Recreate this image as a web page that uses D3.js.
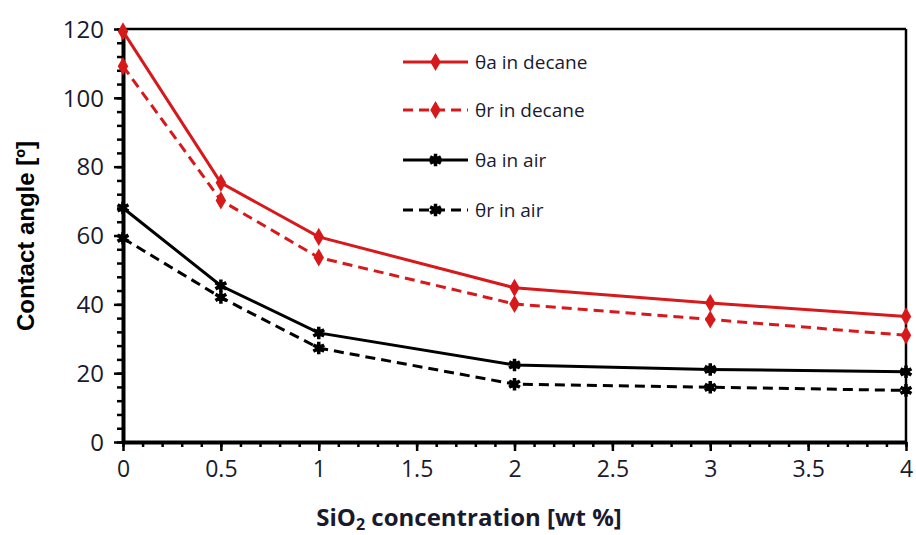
<!DOCTYPE html>
<html>
<head>
<meta charset="utf-8">
<script src="https://cdn.jsdelivr.net/npm/d3@7"></script>
<style>
  body { margin: 0; background: #fff; }
  svg { display: block; }
</style>
</head>
<body>
<script>
// data
const concentrations = [0, 0.5, 1, 2, 3, 4];
const thetaADecane = [119.3, 75.3, 59.6, 44.8, 40.4, 36.5];
const thetaRDecane = [109.2, 70.2, 53.6, 40.1, 35.6, 31.0];
const thetaAAir = [68.0, 45.4, 31.7, 22.4, 21.1, 20.4];
const thetaRAir = [59.2, 42.0, 27.3, 16.8, 15.9, 15.0];
const seriesNames = ["θa in decane", "θr in decane", "θa in air", "θr in air"];
const xTicks = [0, 0.5, 1, 1.5, 2, 2.5, 3, 3.5, 4];
const yTicks = [0, 20, 40, 60, 80, 100, 120];

const width = 916, height = 535;
const margin = { left: 123, right: 10, top: 29, bottom: 93 };

const svg = d3.select("body").append("svg")
  .attr("width", width).attr("height", height);

const x_scale = d3.scaleLinear().domain([0, 4]).range([margin.left, width - margin.right]);
const y_scale = d3.scaleLinear().domain([0, 120]).range([height - margin.bottom, margin.top]);

const series = [
  { name: seriesNames[0], values: thetaADecane, color: "#d7191c", dash: null, marker: "diamond" },
  { name: seriesNames[1], values: thetaRDecane, color: "#d7191c", dash: "10,6", marker: "diamond" },
  { name: seriesNames[2], values: thetaAAir, color: "#000", dash: null, marker: "star" },
  { name: seriesNames[3], values: thetaRAir, color: "#000", dash: "10,6", marker: "star" }
];

// box: top and right edges
svg.append("line")
  .attr("x1", x_scale(0)).attr("x2", x_scale(4))
  .attr("y1", y_scale(120)).attr("y2", y_scale(120))
  .attr("stroke", "#000").attr("stroke-width", 2.5);
svg.append("line")
  .attr("x1", x_scale(4)).attr("x2", x_scale(4))
  .attr("y1", y_scale(120)).attr("y2", y_scale(0))
  .attr("stroke", "#000").attr("stroke-width", 2.5);

// minor ticks
const yMinor = d3.range(0, 121, 4);
const xMinor = d3.range(0, 41).map(d => d / 10);

const yMinorAxis = d3.axisLeft(y_scale).tickValues(yMinor).tickSize(6).tickFormat("");
const xMinorAxis = d3.axisBottom(x_scale).tickValues(xMinor).tickSize(5).tickFormat("");

svg.append("g").attr("transform", `translate(${margin.left},0)`).call(yMinorAxis)
  .call(g => g.select(".domain").remove())
  .selectAll("line").attr("stroke-width", 2.5);
svg.append("g").attr("transform", `translate(0,${height - margin.bottom})`).call(xMinorAxis)
  .call(g => g.select(".domain").remove())
  .selectAll("line").attr("stroke-width", 2.5);

// major axes
const y_axis = d3.axisLeft(y_scale).tickValues(yTicks).tickSize(9).tickSizeOuter(0).tickPadding(10);
const x_axis = d3.axisBottom(x_scale).tickValues(xTicks).tickSize(9).tickSizeOuter(0).tickPadding(10)
  .tickFormat(d => String(d));

svg.append("g").attr("transform", `translate(${margin.left},0)`).call(y_axis)
  .call(g => g.select(".domain").attr("stroke-width", 4))
  .call(g => g.selectAll("line").attr("stroke-width", 2.5))
  .call(g => g.selectAll("text").style("font", "24px 'Open Sans'").attr("fill", "#1a1a2e").attr("dy", "0.34em"));

svg.append("g").attr("transform", `translate(0,${height - margin.bottom})`).call(x_axis)
  .call(g => g.select(".domain").attr("stroke-width", 4))
  .call(g => g.selectAll("line").attr("stroke-width", 2.5))
  .call(g => g.selectAll("text").style("font", "23px 'Open Sans'").attr("fill", "#1a1a2e"));

// markers
const diamond = d3.symbol().type(d3.symbolDiamond).size(95);
const star = d3.symbol().type(d3.symbolAsterisk).size(110);

function drawMarker(g, type, color) {
  if (type === "diamond") {
    g.append("path").attr("d", diamond).attr("fill", color);
  } else {
    g.append("path").attr("d", star).attr("fill", "none").attr("stroke", color).attr("stroke-width", 3.5);
    g.append("rect").attr("x", -3.5).attr("y", -3.5).attr("width", 7).attr("height", 7).attr("fill", color);
  }
}

const line_generator = d3.line()
  .x((d, i) => x_scale(concentrations[i]))
  .y(d => y_scale(d));

series.forEach(s => {
  svg.append("path")
    .attr("fill", "none")
    .attr("stroke", s.color)
    .attr("stroke-width", 3)
    .attr("stroke-dasharray", s.dash)
    .attr("d", line_generator(s.values));
  s.values.forEach((v, i) => {
    const g = svg.append("g").attr("transform", `translate(${x_scale(concentrations[i])},${y_scale(v)})`);
    drawMarker(g, s.marker, s.color);
  });
});

// legend
const legendRows = [62, 110, 160, 210];
series.forEach((s, i) => {
  const ly = legendRows[i];
  svg.append("line")
    .attr("x1", 403).attr("x2", 468).attr("y1", ly).attr("y2", ly)
    .attr("stroke", s.color).attr("stroke-width", 3)
    .attr("stroke-dasharray", s.dash);
  const g = svg.append("g").attr("transform", `translate(435.5,${ly})`);
  drawMarker(g, s.marker, s.color);
  svg.append("text")
    .attr("x", 475).attr("y", ly).attr("dy", "0.35em")
    .style("font", "19px 'Open Sans'").attr("fill", "#1a1a2e")
    .text(s.name);
});

// axis titles
svg.append("text")
  .attr("transform", `translate(34,${236}) rotate(-90)`)
  .attr("text-anchor", "middle")
  .style("font", "bold 24px 'Liberation Sans'")
  .text("Contact angle [º]");

const xt = svg.append("text")
  .attr("x", 469).attr("y", 526)
  .attr("text-anchor", "middle")
  .style("font", "bold 24px 'Open Sans'")
  .attr("fill", "#1a1a2e");
xt.append("tspan").text("SiO");
xt.append("tspan").attr("font-size", "16px").attr("dy", 4).text("2");
xt.append("tspan").attr("dy", -4).text(" concentration [wt %]");
</script>
</body>
</html>
